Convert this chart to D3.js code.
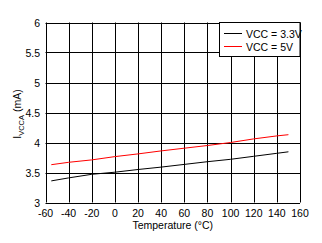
<!DOCTYPE html>
<html>
<head>
<meta charset="utf-8">
<script src="https://cdn.jsdelivr.net/npm/d3@7"></script>
<style>
  body { margin: 0; background: #fff; }
  text { font-family: "Liberation Sans", Arial, sans-serif; }
</style>
</head>
<body>
<div id="chart"></div>
<script>
var width  = 322;
var height = 243;

// data
var temps   = [-55, -40, -20, 0, 20, 40, 60, 80, 100, 120, 140, 150];
var vcc33   = [3.36, 3.41, 3.47, 3.505, 3.55, 3.59, 3.635, 3.68, 3.72, 3.77, 3.82, 3.845];
var vcc5    = [3.63, 3.67, 3.71, 3.765, 3.81, 3.86, 3.905, 3.95, 4.0, 4.06, 4.11, 4.13];
var xTicks  = [-60, -40, -20, 0, 20, 40, 60, 80, 100, 120, 140, 160];
var yTicks  = [3, 3.5, 4, 4.5, 5, 5.5, 6];
var seriesNames  = ["VCC = 3.3V", "VCC = 5V"];
var seriesColors = ["#000000", "#ff0000"];

var plot = {left: 45.5, right: 300, top: 22.5, bottom: 202.5};

var svg = d3.select("#chart").append("svg")
    .attr("width", width)
    .attr("height", height);

var x = d3.scaleLinear().domain([-60, 160]).range([plot.left, plot.right]);
var y = d3.scaleLinear().domain([3, 6]).range([plot.bottom, plot.top]);

// ------------- grid -----------------
var grid = svg.append("g");
grid.selectAll("line.v")
    .data(xTicks)
    .enter()
  .append("line")
    .attr("x1", function(d){ return Math.round(x(d)) + 0.5; })
    .attr("x2", function(d){ return Math.round(x(d)) + 0.5; })
    .attr("y1", plot.top).attr("y2", plot.bottom)
    .attr("stroke", "#000").attr("stroke-width", 1);

grid.selectAll("line.h")
    .data(yTicks)
    .enter()
  .append("line")
    .attr("y1", function(d){ return Math.round(y(d)) + 0.5; })
    .attr("y2", function(d){ return Math.round(y(d)) + 0.5; })
    .attr("x1", plot.left).attr("x2", plot.right)
    .attr("stroke", "#000").attr("stroke-width", 1);

// ------------- tick labels -----------------
svg.append("g").selectAll("text")
    .data(xTicks)
    .enter()
  .append("text")
    .attr("x", function(d){ return x(d); })
    .attr("y", 217)
    .attr("text-anchor", "middle")
    .style("font-size", "10.5px")
    .text(function(d){ return d; });

svg.append("g").selectAll("text")
    .data(yTicks)
    .enter()
  .append("text")
    .attr("x", 40)
    .attr("y", function(d){ return y(d) + 4; })
    .attr("text-anchor", "end")
    .style("font-size", "10.5px")
    .text(function(d){ return d; });

// ------------- axis titles -----------------
svg.append("text")
    .attr("x", (plot.left + plot.right) / 2)
    .attr("y", 229)
    .attr("text-anchor", "middle")
    .style("font-size", "10.5px")
    .text("Temperature (°C)");

var yLabel = svg.append("text")
    .attr("transform", "translate(21," + 114 + ") rotate(-90)")
    .attr("text-anchor", "middle")
    .style("font-size", "10.5px");
yLabel.append("tspan").text("I");
yLabel.append("tspan").attr("dy", 3).style("font-size", "7.5px").text("VCCA");
yLabel.append("tspan").attr("dy", -3).text(" (mA)");

// ------------- lines -----------------
var line = d3.line()
    .x(function(d){ return x(d[0]); })
    .y(function(d){ return y(d[1]); });

[vcc33, vcc5].forEach(function(vals, i){
  svg.append("path")
      .datum(temps.map(function(t, j){ return [t, vals[j]]; }))
      .attr("d", line)
      .attr("fill", "none")
      .attr("stroke", seriesColors[i])
      .attr("stroke-width", 1);
});

// ------------- legend -----------------
var legend = svg.append("g");
legend.append("rect")
    .attr("x", 219.5).attr("y", 22.5)
    .attr("width", 80.5).attr("height", 34)
    .attr("fill", "#fff")
    .attr("stroke", "#000");

for (var i = 0; i < seriesNames.length; i++){
  legend.append("line")
      .attr("x1", 224).attr("x2", 242)
      .attr("y1", 33.5 + i * 13).attr("y2", 33.5 + i * 13)
      .attr("stroke", seriesColors[i]);
  legend.append("text")
      .attr("x", 246)
      .attr("y", 37.5 + i * 13)
      .style("font-size", "10.5px")
      .text(seriesNames[i]);
}
</script>
</body>
</html>
